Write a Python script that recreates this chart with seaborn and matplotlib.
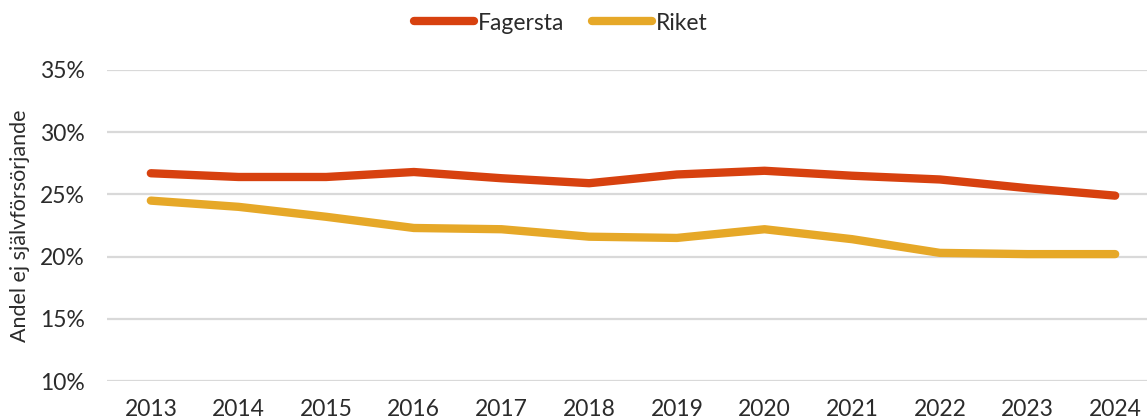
import matplotlib
matplotlib.use("Agg")
import matplotlib.pyplot as plt
import matplotlib.font_manager as fm
import seaborn as sns
import pandas as pd

# Share of population not self-supporting
years = [2013, 2014, 2015, 2016, 2017, 2018, 2019, 2020, 2021, 2022, 2023, 2024]
fagersta = [26.7, 26.4, 26.4, 26.8, 26.3, 25.9, 26.6, 26.9, 26.5, 26.2, 25.5, 24.9]
riket = [24.5, 24.0, 23.2, 22.3, 22.2, 21.6, 21.5, 22.2, 21.4, 20.3, 20.2, 20.2]
series_names = ["Fagersta", "Riket"]
y_ticks = [10, 15, 20, 25, 30, 35]
y_label = "Andel ej självförsörjande"

sns.set_theme(style="white")
names = {f.name for f in fm.fontManager.ttflist}
family = "Lato" if "Lato" in names else "DejaVu Sans"
plt.rcParams["font.family"] = [family, "DejaVu Sans"]
text_color = "#2B2B2B"

df = pd.DataFrame({
    "year": years * 2,
    "value": fagersta + riket,
    "series": [series_names[0]] * len(years) + [series_names[1]] * len(years),
})
palette = {"Fagersta": "#D7410F", "Riket": "#E6A828"}

fig = plt.figure(figsize=(11.47, 4.2), dpi=100)
ax = fig.add_axes([107 / 1147, 1 - 381 / 420, (1159 - 107) / 1147, (381 - 70) / 420])

sns.lineplot(data=df, x="year", y="value", hue="series", palette=palette,
             linewidth=6, ax=ax, legend=False, solid_capstyle="round",
             solid_joinstyle="round")

ax.set_ylim(10, 35)
ax.set_xlim(years[0] - 0.5, years[-1] + 0.5)
ax.set_yticks(y_ticks)
ax.set_yticklabels([f"{v}%" for v in y_ticks])
ax.set_xticks(years)
ax.set_xticklabels([str(y) for y in years])
ax.grid(axis="y", color="#D9D9D9", linewidth=1.6)
ax.set_axisbelow(True)
for s in ax.spines.values():
    s.set_visible(False)
ax.tick_params(axis="y", length=0, pad=16, labelsize=16.5, labelcolor=text_color)
ax.tick_params(axis="x", length=0, pad=13, labelsize=16.5, labelcolor=text_color)
ax.set_xlabel("")
ax.set_ylabel(y_label, fontsize=15.5, color=text_color, labelpad=7)

handles = [plt.Line2D([0], [0], color=palette[n], linewidth=6, solid_capstyle="round")
           for n in series_names]
leg = fig.legend(handles, series_names, loc="center", bbox_to_anchor=(561 / 1147, 1 - 23 / 420),
                 ncol=2, frameon=False, fontsize=16.5, handlelength=2.6, handletextpad=0.2,
                 columnspacing=1.2)
for t in leg.get_texts():
    t.set_color(text_color)

fig.savefig("out.png", dpi=100)
